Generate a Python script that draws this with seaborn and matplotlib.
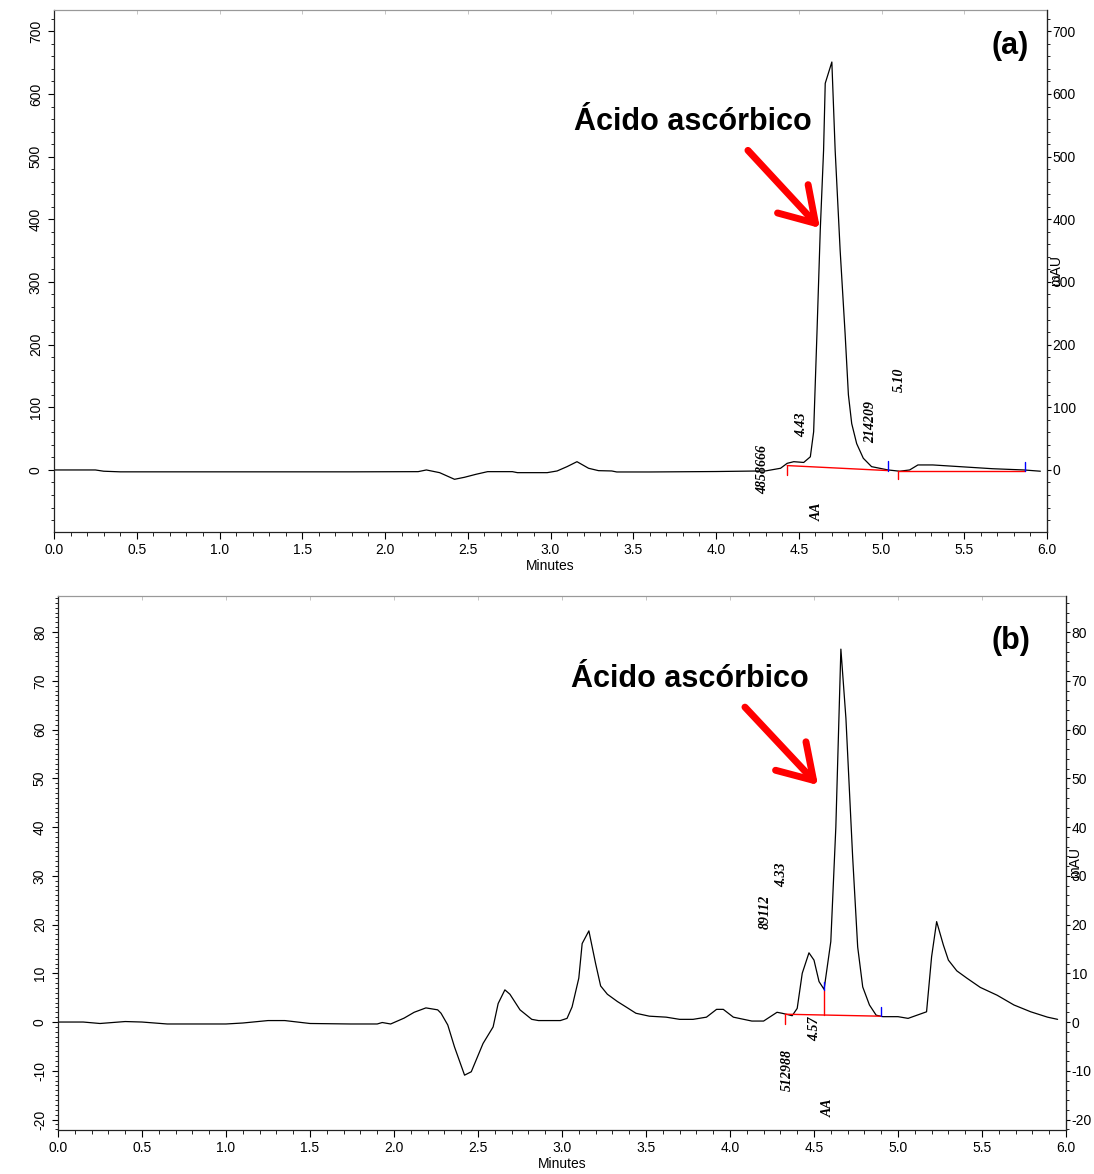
import numpy as np
import pandas as pd
import matplotlib
matplotlib.use("Agg")
import matplotlib.pyplot as plt
import seaborn as sns
from matplotlib.ticker import MultipleLocator, AutoMinorLocator

sns.set_style("ticks")
plt.rcParams['font.family'] = ['Liberation Sans', 'DejaVu Sans']
plt.rcParams['axes.unicode_minus'] = False
plt.rcParams['text.color'] = 'black'
plt.rcParams['xtick.color'] = 'black'
plt.rcParams['ytick.color'] = 'black'
plt.rcParams['axes.labelcolor'] = 'black'

# --- chromatogram (a): time (min) vs absorbance (mAU) ---
top_t = [0.00, 0.25, 0.30, 0.40, 1.00, 1.80, 2.20, 2.25, 2.33, 2.42, 2.48, 2.55,
         2.62, 2.77, 2.80, 2.98, 3.04, 3.10, 3.16, 3.23, 3.29, 3.37, 3.40, 3.60,
         4.00, 4.30, 4.39, 4.43, 4.47, 4.53, 4.57, 4.59, 4.61, 4.63, 4.65, 4.66,
         4.70, 4.72, 4.75, 4.78, 4.80, 4.82, 4.85, 4.89, 4.94, 5.04, 5.11, 5.17,
         5.22, 5.31, 5.43, 5.55, 5.67, 5.86, 5.96]
top_mau = [0, 0, -2, -3, -3, -3, -2.7, 0, -4.3, -14.9, -11.7, -6.9,
           -2.7, -2.7, -4.3, -4.3, -1.6, 5.3, 13.2, 2.7, -1.1, -1.6, -3.2, -3.2,
           -2.5, -1.5, 2.7, 10.6, 13.2, 12, 21, 61, 218, 383, 510, 617,
           651, 510, 351, 218, 120, 74, 42, 18.7, 5.3, 0, -2, 0,
           8, 8, 6, 4, 2, 0, -2]

# --- chromatogram (b) ---
bot_t = [0.00, 0.15, 0.25, 0.40, 0.50, 0.65, 1.00, 1.10, 1.25, 1.35, 1.50, 1.74,
         1.90, 1.93, 1.98, 2.06, 2.12, 2.19, 2.26, 2.28, 2.32, 2.36, 2.42, 2.46,
         2.53, 2.59, 2.62, 2.66, 2.69, 2.75, 2.82, 2.86, 2.99, 3.03, 3.06, 3.10,
         3.12, 3.16, 3.20, 3.23, 3.27, 3.33, 3.39, 3.44, 3.52, 3.62, 3.70, 3.78,
         3.86, 3.92, 3.96, 4.02, 4.13, 4.20, 4.28, 4.31, 4.37, 4.40, 4.43, 4.47,
         4.50, 4.53, 4.56, 4.60, 4.63, 4.66, 4.69, 4.73, 4.76, 4.79, 4.83, 4.87,
         4.91, 5.00, 5.06, 5.17, 5.20, 5.23, 5.27, 5.30, 5.35, 5.41, 5.49, 5.59,
         5.69, 5.79, 5.89, 5.95]
bot_mau = [0, 0, -0.3, 0.1, 0, -0.4, -0.4, -0.2, 0.3, 0.3, -0.3, -0.4,
           -0.4, -0.1, -0.4, 0.8, 2.0, 2.9, 2.5, 1.8, -0.6, -5.1, -10.9, -10.2,
           -4.4, -1.0, 3.8, 6.6, 5.7, 2.5, 0.55, 0.3, 0.3, 0.75, 3.1, 9.0,
           16.1, 18.7, 12.0, 7.4, 5.7, 4.2, 2.9, 1.8, 1.2, 1.0, 0.55, 0.55,
           1.0, 2.6, 2.6, 1.0, 0.2, 0.2, 2.0, 1.8, 1.3, 2.8, 10, 14.2,
           12.7, 8.3, 6.7, 16.5, 40, 76.5, 62.3, 33.9, 15.4, 7.2, 3.5, 1.4,
           1.1, 1.1, 0.75, 2.1, 13.4, 20.6, 15.8, 12.7, 10.5, 9.0, 7.1, 5.5,
           3.5, 2.1, 1.0, 0.55]

# integration baselines (red) and event marks: (t_start, y_start, t_end, y_end)
top_baselines = [(4.43, 7, 5.04, -1), (5.10, -1, 5.865, -1)]
top_red_ticks = [(4.43, 7, -8), (5.10, -1, -15)]
top_blue_ticks = [(5.04, 14, -1), (5.865, 12, -1)]
bot_baselines = [(4.33, 1.6, 4.895, 1.2)]
bot_red_ticks = [(4.33, 1.6, -0.4), (4.561, 6.6, 1.5)]
bot_blue_ticks = [(4.561, 8.3, 6.6), (4.897, 3.0, 1.2)]

# peak labels: (text, t, mAU)
top_labels = [("4858666", 4.284, 0), ("4.43", 4.52, 72), ("AA", 4.61, -67),
              ("214209", 4.937, 77), ("5.10", 5.106, 144)]
bot_labels = [("89112", 4.208, 22.6), ("4.33", 4.31, 30.2), ("512988", 4.339, -9.8),
              ("4.57", 4.506, -1.3), ("AA", 4.583, -17.6)]

W, H = 1094, 1174
fig = plt.figure(figsize=(W / 100, H / 100), dpi=100)
ax1 = fig.add_axes([54 / W, 1 - 532 / H, (1047 - 54) / W, (532 - 10) / H])
ax2 = fig.add_axes([58 / W, 1 - 1130 / H, (1066 - 58) / W, (1130 - 596) / H])

panels = [
    (ax1, top_t, top_mau, (-99, 734), 100, 5, top_baselines, top_red_ticks, top_blue_ticks,
     top_labels, "(a)", (5.776, 676), (3.861, 555), (4.193, 510), (4.628, 386), 1056, 270),
    (ax2, bot_t, bot_mau, (-22.15, 87.4), 10, 10, bot_baselines, bot_red_ticks, bot_blue_ticks,
     bot_labels, "(b)", (5.673, 78.2), (3.762, 70.4), (4.089, 64.6), (4.524, 48.6), 1075, 862),
]

for (ax, t, y, ylim, ystep, yminor, bls, rts, bts, labels, tag, tagpos,
     namepos, arr_from, arr_to, mau_x, mau_y) in panels:
    df = pd.DataFrame({"Minutes": t, "mAU": y})
    sns.lineplot(data=df, x="Minutes", y="mAU", ax=ax, color="black", lw=0.9,
                 sort=False, estimator=None)
    for t0, y0, t1, y1 in bls:
        ax.plot([t0, t1], [y0, y1], color="red", lw=1.0)
    for tt, ya, yb in rts:
        ax.plot([tt, tt], [ya, yb], color="red", lw=1.0)
    for tt, ya, yb in bts:
        ax.plot([tt, tt], [ya, yb], color="blue", lw=1.0)
    for txt, tt, yy in labels:
        ax.text(tt, yy, txt, rotation=90, ha="center", va="center", fontsize=10,
                family=["Liberation Serif", "DejaVu Serif"], style="italic", weight="bold")

    ax.text(tagpos[0], tagpos[1], tag, fontsize=22, weight="bold", ha="center", va="center")
    ax.text(namepos[0], namepos[1], "Ácido ascórbico", fontsize=22, weight="bold",
            ha="center", va="center")
    ax.annotate("", xy=arr_to, xytext=arr_from,
                arrowprops=dict(arrowstyle="->,head_length=1.2,head_width=0.75",
                                color="red", lw=5, mutation_scale=20, shrinkA=0, shrinkB=0))

    ax.set_xlim(0, 6)
    ax.set_ylim(*ylim)
    ax.xaxis.set_major_locator(MultipleLocator(0.5))
    ax.xaxis.set_minor_locator(MultipleLocator(0.1))
    ax.yaxis.set_major_locator(MultipleLocator(ystep))
    ax.yaxis.set_minor_locator(AutoMinorLocator(yminor))
    ax.xaxis.set_major_formatter(matplotlib.ticker.FormatStrFormatter("%.1f"))
    ax.tick_params(axis="x", which="major", length=5, width=0.8, labelsize=10, pad=3,
                   direction="out")
    ax.tick_params(axis="x", which="minor", length=3, width=0.6)
    ax.tick_params(axis="y", which="major", length=4, width=0.8, labelsize=10, pad=4)
    ax.tick_params(axis="y", which="minor", length=2, width=0.6)
    for lab in ax.get_yticklabels():
        lab.set_rotation(90)
        lab.set_va("center")
    ax.set_xlabel("Minutes", fontsize=10, labelpad=1)
    ax.set_ylabel("")
    for side in ["left", "bottom", "right"]:
        ax.spines[side].set_color("#222222")
        ax.spines[side].set_linewidth(0.9)
    ax.spines["top"].set_color("#999999")

    # faint inward ticks along the top edge
    axt = ax.secondary_xaxis("top")
    axt.xaxis.set_major_locator(MultipleLocator(0.5))
    axt.tick_params(direction="in", length=3, width=0.6, color="#bbbbbb", labeltop=False)
    axt.spines["top"].set_color("#999999")

    axr = ax.twinx()
    axr.set_ylim(*ylim)
    axr.yaxis.set_major_locator(MultipleLocator(ystep))
    axr.yaxis.set_minor_locator(AutoMinorLocator(5))
    axr.tick_params(axis="y", which="major", length=3, width=0.8, labelsize=10, pad=1)
    axr.tick_params(axis="y", which="minor", length=2, width=0.6)
    for side in ["left", "bottom", "right", "top"]:
        axr.spines[side].set_visible(side == "right")
    axr.spines["right"].set_color("#222222")
    # the reference prints the unit over the right-hand tick labels
    fig.text(mau_x / W, 1 - mau_y / H, "mAU", rotation=90, ha="center", va="center",
             fontsize=10)

fig.savefig("out.png", dpi=100)
